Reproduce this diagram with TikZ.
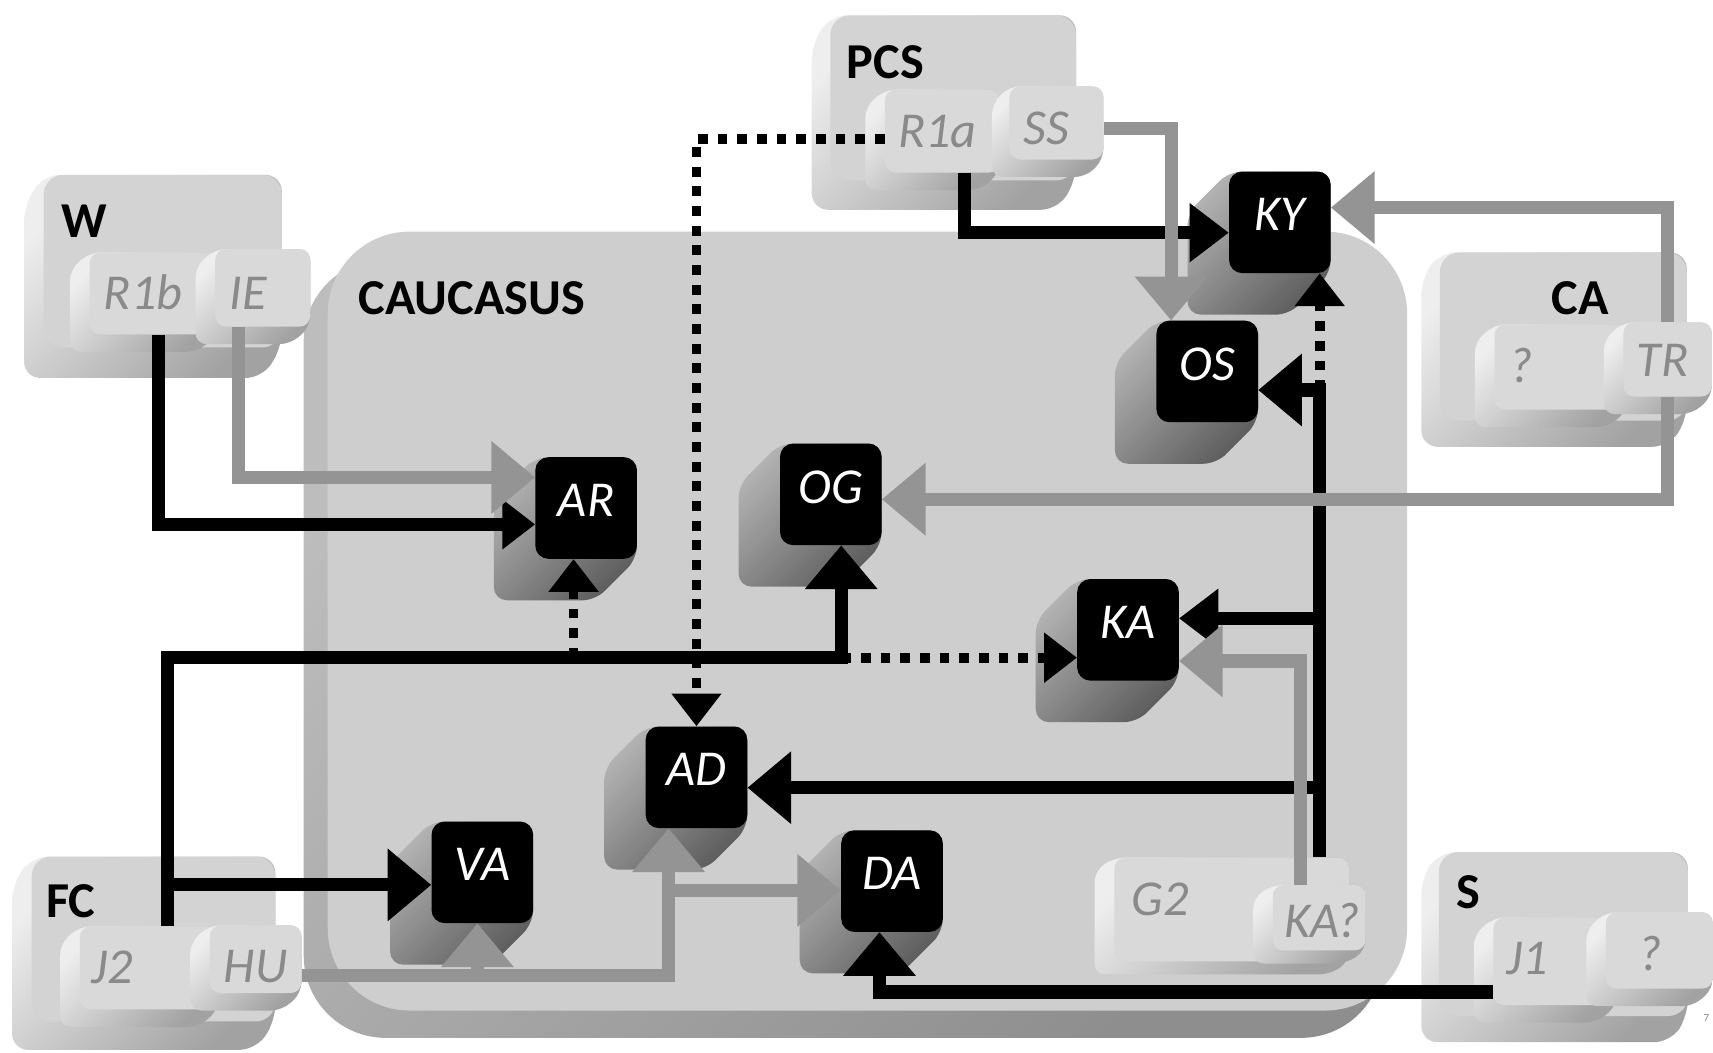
\documentclass[tikz,border=0pt]{standalone}
\usepackage{fontspec}
\setmainfont{Carlito}
\usetikzlibrary{arrows.meta,calc}
\definecolor{cauF}{HTML}{CECECE}
\definecolor{cauL}{HTML}{BDBDBD}
\definecolor{cauD}{HTML}{8E8E8E}
\definecolor{capF}{HTML}{D3D3D3}
\definecolor{keyF}{HTML}{D9D9D9}
\definecolor{extL}{HTML}{EEEEEE}
\definecolor{extD}{HTML}{A2A2A2}
\definecolor{shL}{HTML}{B2B2B2}
\definecolor{shD}{HTML}{5E5E5E}
\definecolor{lineG}{HTML}{949494}
\definecolor{keyT}{HTML}{8A8A8A}
\newcommand\lkey[8]{%
  \path[#8ext] (#2,#3) -- (#4,#3) -- (#4,#5) -- ({#4-#6},{#5+#7}) -- ({#2-#6},{#5+#7}) -- ({#2-#6},{#3+#7}) -- cycle;
  \pgfmathsetmacro\kw{#4-#2}\pgfmathsetmacro\kh{#5-#3}%
  \node[#8, minimum width=\kw pt, minimum height=\kh pt] (#1) at ({(#2+#4)/2},{(#3+#5)/2}) {};}
\newcommand\bkey[3]{%
  \path[bshadow] ({#2-46.5},{#3-46.5}) -- ({#2+46.5},{#3-46.5}) -- ({#2+46.5},{#3+46.5}) -- ({#2+8.5},{#3+84.5}) -- ({#2-84.5},{#3+84.5}) -- ({#2-84.5},{#3-8.5}) -- cycle;
  \node[blk] (#1) at (#2,#3) {#1};}
\begin{document}
\begin{tikzpicture}[x=1pt,y=-1pt,
  font=\fontsize{46}{55}\selectfont,
  okeyext/.style={rounded corners=15pt, top color=extL, bottom color=extD, shading angle=45},
  ikeyext/.style={rounded corners=10pt, top color=extL, bottom color=extD, shading angle=45},
  okey/.style={fill=capF, rounded corners=18pt, inner sep=0pt},
  ikey/.style={fill=keyF, rounded corners=10pt, inner sep=0pt},
  bshadow/.style={rounded corners=12pt, top color=shL, bottom color=shD, shading angle=45},
  blk/.style={fill=black, rounded corners=12pt, minimum width=93pt, minimum height=93pt, inner sep=0pt, text=white, font=\fontsize{46}{55}\selectfont\itshape, text depth=14pt},
  lab/.style={font=\fontsize{46}{55}\selectfont\bfseries, anchor=base west, inner sep=0pt},
  ktext/.style={font=\fontsize{46}{55}\selectfont\itshape, text=keyT, anchor=base, inner sep=0pt},
  bl/.style={draw=black, line width=12pt},
  gl/.style={draw=lineG, line width=12pt},
  dl/.style={draw=black, line width=9pt, dash pattern=on 9pt off 9pt},
  tipbig/.style={-{Triangle[length=40pt,width=64pt]}},
  tipmid/.style={-{Triangle[length=36pt,width=52pt]}},
  tipsmall/.style={-{Triangle[length=30pt,width=44pt]}}]
\useasboundingbox (0,0) rectangle (1568,963);
% Caucasus
\path[rounded corners=75pt, top color=cauL, bottom color=cauD, shading angle=45] (278,237) rectangle (1266,950);
\node[fill=cauF, rounded corners=75pt, minimum width=988pt, minimum height=713pt, inner sep=0pt] (CAU) at (794,568.5) {};
\node[lab] (caulab) at (328,288) {CAUCASUS};
\lkey{G2}{1020}{785}{1235}{880}{18}{12}{ikey}
\lkey{KAq}{1165}{810}{1250}{870}{18}{12}{ikey}
\node[ktext] (tG2) at (1062,838) {G2};
\node[ktext] (tKAq) at (1210,858) {KA?};
% W
\lkey{W}{40}{160}{258}{318}{18}{28}{okey}
\node[lab] (Wl) at (56,217) {W};
\lkey{R1b}{82}{231}{199}{306}{18}{16}{ikey}
\lkey{IE}{197}{228}{284}{299}{18}{16}{ikey}
\node[ktext] (tR1b) at (131,283) {R1b};
\node[ktext] (tIE) at (227,283) {IE};
% PCS
\lkey{PCS}{760}{14}{985}{165}{17}{27}{okey}
\node[lab] (PCSl) at (775,72) {PCS};
\lkey{R1a}{810}{82}{915}{158}{18}{16}{ikey}
\lkey{SS}{924}{79}{1010}{146}{16}{16}{ikey}
\node[ktext] (tR1a) at (858,135) {R1a};
\node[ktext] (tSS) at (958,132) {SS};
% CA
\lkey{CA}{1318}{231}{1544}{385}{17}{24}{okey}
\node[lab] (CAl) at (1420,288) {CA};
\lkey{CAq}{1368}{297}{1490}{375}{18}{16}{ikey}
\lkey{TR}{1486}{295}{1567}{363}{18}{16}{ikey}
\node[ktext] (tCAq) at (1392,350) {?};
\node[ktext] (tTR) at (1522,345) {TR};
% FC
\lkey{FC}{29}{784}{252}{935}{18}{26}{okey}
\node[lab] (FCl) at (42,840) {FC};
\lkey{J2}{73}{848}{200}{924}{18}{16}{ikey}
\lkey{HU}{192}{847}{276}{909}{18}{16}{ikey}
\node[ktext] (tJ2) at (103,900) {J2};
\node[ktext] (tHU) at (234,899) {HU};
% S
\lkey{S}{1317}{780}{1545}{930}{16}{24}{okey}
\node[lab] (Sl) at (1333,832) {S};
\lkey{J1}{1367}{840}{1480}{920}{18}{16}{ikey}
\lkey{Sq}{1470}{835}{1568}{905}{18}{16}{ikey}
\node[ktext] (tJ1) at (1398,892) {J1};
\node[ktext] (tSq) at (1510,888) {?};
\node[font=\fontsize{10}{12}\selectfont, text=keyT, inner sep=0pt] (pg) at (1562,932) {7};
% black nodes
\bkey{KY}{1171.5}{203.5}
\bkey{OS}{1105}{340}
\bkey{AR}{536.5}{465}
\bkey{OG}{760.5}{452.5}
\bkey{KA}{1032.5}{576.5}
\bkey{AD}{637.5}{711.5}
\bkey{VA}{441.5}{798.5}
\bkey{DA}{816.5}{806.5}
% coordinates
\coordinate (g2n) at ([xshift=80.5pt]G2.north);
\coordinate (ose) at ([yshift=-17pt]OS.east);
\coordinate (kae) at ([yshift=10.5pt]KA.east);
\coordinate (ade) at ([yshift=-9.5pt]AD.east);
\coordinate (kys) at ([xshift=36.5pt]KY.south);
\coordinate (j2n) at ([xshift=16.5pt]J2.north);
\coordinate (ogs) at ([xshift=9.5pt]OG.south);
\coordinate (jc) at (770,602);
\coordinate (vaw) at ([yshift=-11.5pt]VA.west);
\coordinate (ars) at ([xshift=-11.5pt]AR.south);
\coordinate (hue) at ([yshift=-15pt]HU.east);
\coordinate (ads) at ([xshift=-25.5pt]AD.south);
\coordinate (daw) at ([yshift=-8.5pt]DA.west);
\coordinate (vas) at ([xshift=-4.5pt]VA.south);
% black solid
\draw[bl,tipsmall] ([xshift=4.5pt]R1b.south) |- ([yshift=-15pt]AR.west);
\draw[bl,tipmid] ([xshift=20.5pt]R1a.south) |- ([yshift=-9.5pt]KY.west);
\draw[bl,tipbig] (g2n) |- (ose);
\draw[bl,tipmid] (g2n |- kae) -- (kae);
\draw[bl,tipbig] (g2n |- ade) -- (ade);
\draw[bl,tipbig] (j2n) |- (jc) -- (ogs);
\draw[bl,tipbig] (j2n |- vaw) -- (vaw);
\draw[bl,tipbig] ([yshift=-28pt]J1.west) -| ([xshift=-11.5pt]DA.south);
% dotted
\draw[dl,tipsmall] (g2n |- ose) -- (kys);
\draw[dl,tipsmall] (ars |- jc) -- (ars);
\draw[dl,tipsmall] (jc) -- (KA.west |- jc);
\draw[dl,tipsmall] ([yshift=-7pt]R1a.west) -| (AD.north);
% gray
\draw[gl,tipbig] ([xshift=-22.5pt]IE.south) |- ([yshift=28pt]AR.west);
\draw[gl,tipbig] ([yshift=-5.5pt]SS.east) -| ([xshift=-33pt]OS.north);
\draw[gl,tipbig] (TR.north) |- ([yshift=13.5pt]KY.east);
\draw[gl,tipbig] (TR.south) |- ([yshift=-4.5pt]OG.east);
\draw[gl,tipbig] ([xshift=-17.5pt]KAq.north) |- ([yshift=-28.5pt]KA.east);
\draw[gl,tipbig] (hue) -| (ads);
\draw[gl,tipbig] (ads |- daw) -- (daw);
\draw[gl,tipbig] (vas |- hue) -- (vas);
\end{tikzpicture}
\end{document}
